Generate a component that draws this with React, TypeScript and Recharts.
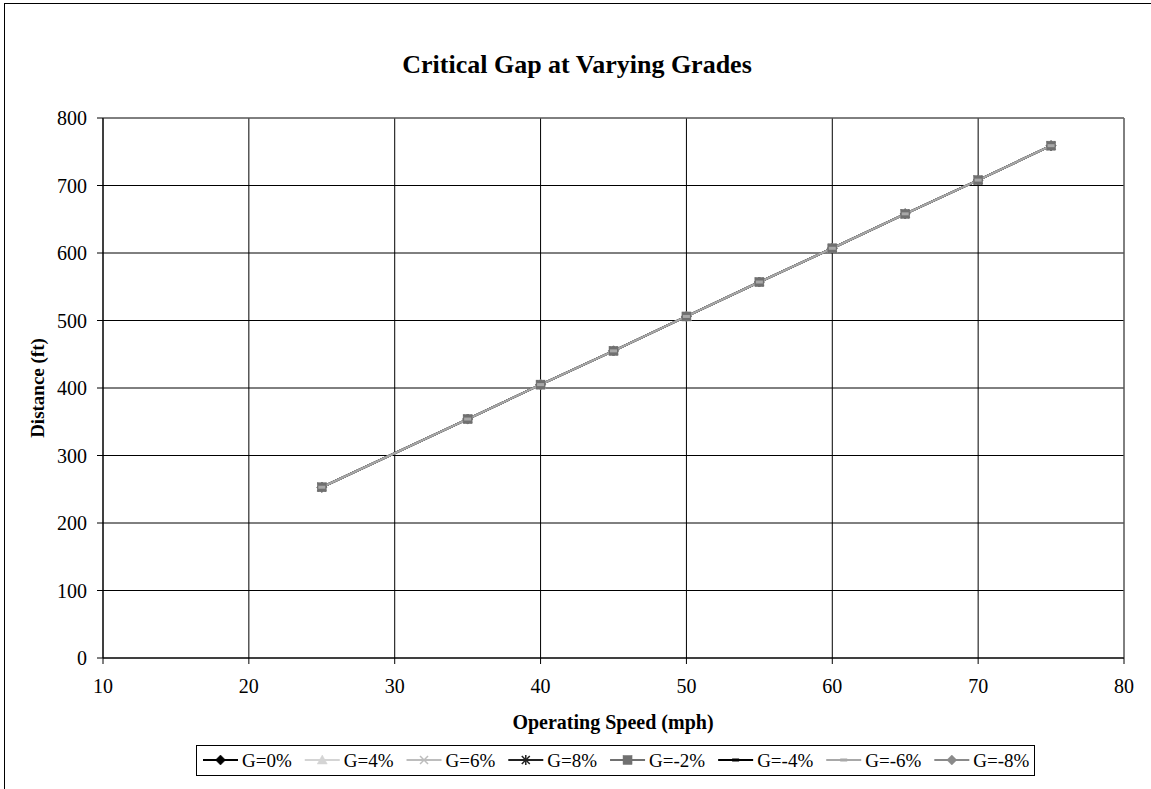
import React from "react";
import { LineChart, Line, XAxis, YAxis, CartesianGrid, ReferenceLine } from "recharts";

const speeds = [25, 35, 40, 45, 50, 55, 60, 65, 70, 75];
const gap0 = [253, 354, 405, 455, 506, 557, 607, 658, 708, 759];
const gap4 = [253, 354, 405, 455, 506, 557, 607, 658, 708, 759];
const gap6 = [253, 354, 405, 455, 506, 557, 607, 658, 708, 759];
const gap8 = [253, 354, 405, 455, 506, 557, 607, 658, 708, 759];
const gapM2 = [253, 354, 405, 455, 506, 557, 607, 658, 708, 759];
const gapM4 = [253, 354, 405, 455, 506, 557, 607, 658, 708, 759];
const gapM6 = [253, 354, 405, 455, 506, 557, 607, 658, 708, 759];
const gapM8 = [253, 354, 405, 455, 506, 557, 607, 658, 708, 759];

const xTicks = [10, 20, 30, 40, 50, 60, 70, 80];
const yTicks = [0, 100, 200, 300, 400, 500, 600, 700, 800];

const title = "Critical Gap at Varying Grades";
const xTitle = "Operating Speed (mph)";
const yTitle = "Distance (ft)";

type Shape = "diamond" | "triangle" | "x" | "star" | "square" | "dash";

const series: { key: string; name: string; values: number[]; color: string; shape: Shape }[] = [
  { key: "g0", name: "G=0%", values: gap0, color: "#000000", shape: "diamond" },
  { key: "g4", name: "G=4%", values: gap4, color: "#d4d4d4", shape: "triangle" },
  { key: "g6", name: "G=6%", values: gap6, color: "#bdbdbd", shape: "x" },
  { key: "g8", name: "G=8%", values: gap8, color: "#222222", shape: "star" },
  { key: "gm2", name: "G=-2%", values: gapM2, color: "#707070", shape: "square" },
  { key: "gm4", name: "G=-4%", values: gapM4, color: "#000000", shape: "dash" },
  { key: "gm6", name: "G=-6%", values: gapM6, color: "#a8a8a8", shape: "dash" },
  { key: "gm8", name: "G=-8%", values: gapM8, color: "#8a8a8a", shape: "diamond" },
];

const drawOrder = ["g0", "g4", "g6", "g8", "gm4", "gm8", "gm2", "gm6"];

const data = speeds.map((s, i) => {
  const row: Record<string, number> = { speed: s };
  series.forEach((se) => {
    row[se.key] = se.values[i];
  });
  return row;
});

const FONT = "'Liberation Serif', 'Times New Roman', serif";

function Marker({ cx, cy, shape, color }: { cx: number; cy: number; shape: Shape; color: string }) {
  switch (shape) {
    case "diamond":
      return <polygon points={`${cx},${cy - 5} ${cx + 5},${cy} ${cx},${cy + 5} ${cx - 5},${cy}`} fill={color} stroke={color} strokeWidth={0.5} />;
    case "triangle":
      return <polygon points={`${cx},${cy - 5} ${cx + 5},${cy + 4} ${cx - 5},${cy + 4}`} fill={color} stroke={color} strokeWidth={0.5} />;
    case "x":
      return (
        <g stroke={color} strokeWidth={1.5}>
          <line x1={cx - 4} y1={cy - 4} x2={cx + 4} y2={cy + 4} />
          <line x1={cx - 4} y1={cy + 4} x2={cx + 4} y2={cy - 4} />
        </g>
      );
    case "star":
      return (
        <g stroke={color} strokeWidth={1.5}>
          <line x1={cx - 4} y1={cy - 4} x2={cx + 4} y2={cy + 4} />
          <line x1={cx - 4} y1={cy + 4} x2={cx + 4} y2={cy - 4} />
          <line x1={cx} y1={cy - 5} x2={cx} y2={cy + 5} />
        </g>
      );
    case "square":
      return <rect x={cx - 4.5} y={cy - 4.5} width={9} height={9} fill={color} stroke={color} strokeWidth={0.5} />;
    case "dash":
    default:
      return <rect x={cx - 3.5} y={cy - 1.5} width={7} height={3} fill={color} />;
  }
}

const makeDot = (shape: Shape, color: string) => (props: any) => {
  const { cx, cy, index } = props;
  if (cx == null || cy == null) return <g key={`d-${index}`} />;
  return (
    <g key={`d-${index}`}>
      <Marker cx={cx} cy={cy} shape={shape} color={color} />
    </g>
  );
};

const LEGEND_FONT = 19;
const textWidth = (s: string) => {
  const w: Record<string, number> = { G: 0.722, "=": 0.564, "%": 0.833, "-": 0.333 };
  let t = 0;
  for (const ch of s) t += w[ch] ?? 0.5;
  return t * LEGEND_FONT;
};

function LegendBox() {
  let x = 203;
  const y = 760;
  const items = series.map((se) => {
    const x0 = x;
    const tw = textWidth(se.name);
    x = x + 40 + tw + 12;
    return (
      <g key={se.key}>
        <line x1={x0} y1={y} x2={x0 + 35} y2={y} stroke={se.color} strokeWidth={2} />
        <Marker cx={x0 + 17.5} cy={y} shape={se.shape} color={se.color} />
        <text x={x0 + 39} y={y + 6.5} fontSize={LEGEND_FONT} fontFamily={FONT} fill="#000">
          {se.name}
        </text>
      </g>
    );
  });
  return (
    <g>
      <rect x={196.5} y={745.5} width={838} height={30} fill="#fff" stroke="#000" strokeWidth={1} />
      {items}
    </g>
  );
}

export default function App() {
  return (
    <div style={{ position: "absolute", left: 0, top: 0, width: 1151, height: 789, overflow: "hidden", background: "#fff" }}>
      <div style={{ position: "absolute", left: 4, top: 3, width: 1200, height: 900, border: "1px solid #000", boxSizing: "border-box" }} />
      <div style={{ position: "absolute", left: 0, top: 0 }}>
        <LineChart width={1151} height={789} data={data} margin={{ top: 118, right: 27, bottom: 101, left: 0 }}>
          <CartesianGrid stroke="#000" strokeWidth={1} />
          <XAxis
            type="number"
            dataKey="speed"
            domain={[10, 80]}
            ticks={xTicks}
            height={30}
            stroke="#000"
            tickSize={6}
            tickMargin={15}
            tick={{ fill: "#000", fontSize: 20, fontFamily: FONT }}
            allowDataOverflow
          />
          <YAxis
            type="number"
            domain={[0, 800]}
            ticks={yTicks}
            width={103}
            stroke="#000"
            tickSize={6}
            tickMargin={10}
            tick={{ fill: "#000", fontSize: 20, fontFamily: FONT }}
            allowDataOverflow
          />
          <ReferenceLine y={800} stroke="#808080" strokeWidth={1} />
          <ReferenceLine x={80} stroke="#808080" strokeWidth={1} />
          {drawOrder.map((k) => {
            const se = series.find((s) => s.key === k)!;
            return (
              <Line
                key={se.key}
                type="linear"
                dataKey={se.key}
                name={se.name}
                stroke={se.color}
                strokeWidth={2}
                dot={makeDot(se.shape, se.color)}
                activeDot={false}
                isAnimationActive={false}
              />
            );
          })}
        </LineChart>
      </div>
      <svg width={1151} height={789} style={{ position: "absolute", left: 0, top: 0, pointerEvents: "none" }}>
        <text x={577} y={73} textAnchor="middle" fontSize={26} fontWeight="bold" fontFamily={FONT} fill="#000">
          {title}
        </text>
        <text x={613} y={729} textAnchor="middle" fontSize={20} fontWeight="bold" fontFamily={FONT} fill="#000">
          {xTitle}
        </text>
        <text x={44} y={388} textAnchor="middle" fontSize={19} fontWeight="bold" fontFamily={FONT} fill="#000" transform="rotate(-90 44 388)">
          {yTitle}
        </text>
        <LegendBox />
      </svg>
    </div>
  );
}
